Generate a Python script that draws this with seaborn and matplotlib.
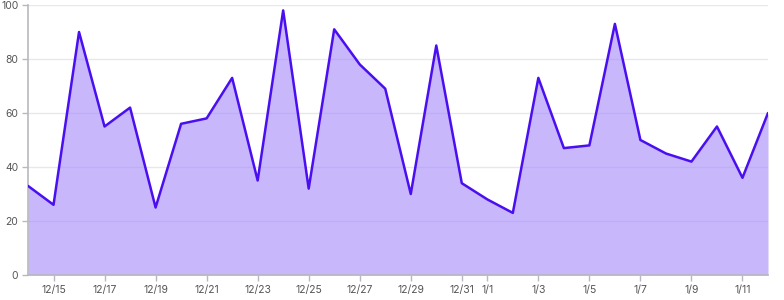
import matplotlib
matplotlib.use("Agg")
import matplotlib.pyplot as plt
import seaborn as sns
import pandas as pd

dates = ["12/14","12/15","12/16","12/17","12/18","12/19","12/20","12/21","12/22","12/23",
         "12/24","12/25","12/26","12/27","12/28","12/29","12/30","12/31","1/1","1/2",
         "1/3","1/4","1/5","1/6","1/7","1/8","1/9","1/10","1/11","1/12"]
values = [33, 26, 90, 55, 62, 25, 56, 58, 73, 35,
          98, 32, 91, 78, 69, 30, 85, 34, 28, 23,
          73, 47, 48, 93, 50, 45, 42, 55, 36, 60]
tick_labels = ["12/15","12/17","12/19","12/21","12/23","12/25","12/27","12/29","12/31",
               "1/1","1/3","1/5","1/7","1/9","1/11"]
y_ticks = [0, 20, 40, 60, 80, 100]

df = pd.DataFrame({"idx": range(len(dates)), "date": dates, "value": values})

sns.set_theme(style="white")
plt.rcParams['font.family'] = ['Inter', 'DejaVu Sans']

fig = plt.figure(figsize=(7.84, 3.0), dpi=100)
ax = fig.add_axes([28/784, 1 - 275/300, (768-28)/784, (275-5)/300])

ax.fill_between(df["idx"], df["value"], 0, color="#a78bfa", alpha=0.62, linewidth=0, zorder=2)
sns.lineplot(data=df, x="idx", y="value", ax=ax, color="#4a0ff0", linewidth=1.8, zorder=3)

ax.set_xlim(0, len(dates) - 1)
ax.set_ylim(0, 100)
ax.set_yticks(y_ticks)
pos = [dates.index(t) for t in tick_labels]
ax.set_xticks(pos)
ax.set_xticklabels(tick_labels)
ax.set_xlabel("")
ax.set_ylabel("")

ax.yaxis.grid(True, color="#e8e8e8", linewidth=1, zorder=0)
ax.xaxis.grid(False)
for s in ["top", "right"]:
    ax.spines[s].set_visible(False)
for s in ["left", "bottom"]:
    ax.spines[s].set_color("#b8b8c0")
    ax.spines[s].set_linewidth(1.2)
ax.tick_params(axis="both", which="both", length=4, width=1, color="#b8b8c0",
               labelsize=7.5, labelcolor="#555555", pad=3, left=True, bottom=True)
ax.set_axisbelow(True)

fig.savefig("out.png", dpi=100)
